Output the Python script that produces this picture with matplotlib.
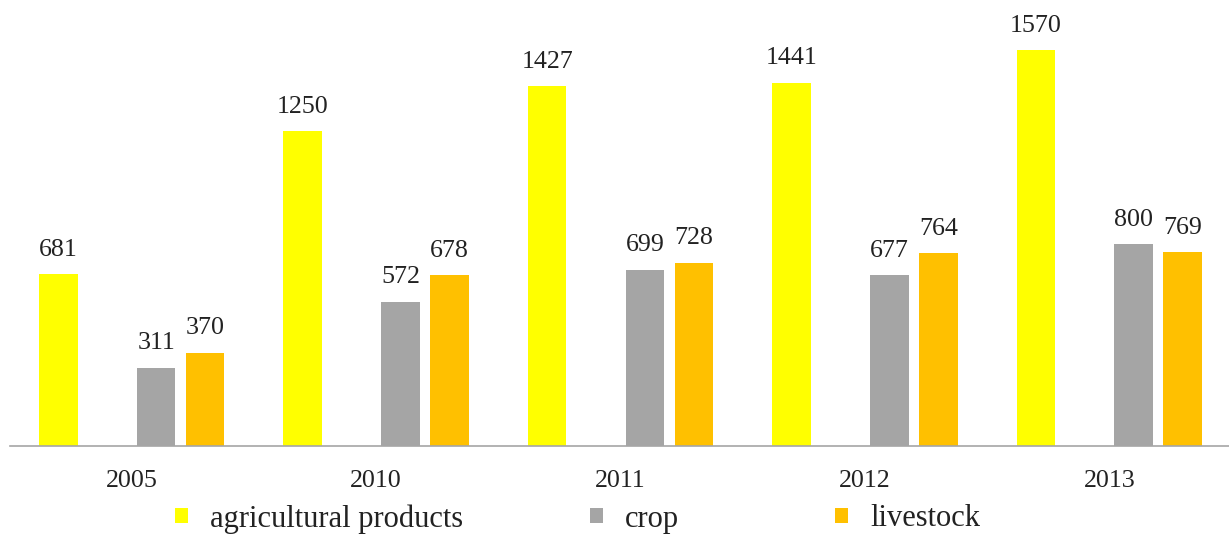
import matplotlib.pyplot as plt
import numpy as np

# Datos del gráfico
anios = ['2005', '2010', '2011', '2012', '2013']
agricolas = [681, 1250, 1427, 1441, 1570]
cultivos = [311, 572, 699, 677, 800]
ganaderia = [370, 678, 728, 764, 769]

nombres = ['agricultural products', 'crop', 'livestock']
colores = ['#FFFF00', '#A5A5A5', '#FFC000']

plt.rcParams['font.family'] = ['Liberation Serif', 'DejaVu Serif']
color_texto = '#222222'

fig = plt.figure(figsize=(12.29, 5.36), dpi=100)
W, H = 1229, 536
# ejes: de x=9.5 px hasta el borde derecho, base en y=446 px
ax = fig.add_axes([9.5 / W, (H - 446) / H, (W - 9.5) / W, 446 / H])

x = np.arange(len(anios))
ancho = 0.158
desplazamientos = [-0.3, 0.1, 0.3]
series = [agricolas, cultivos, ganaderia]

barras = []
for serie, desp, color, nombre in zip(series, desplazamientos, colores, nombres):
    b = ax.bar(x + desp, serie, width=ancho, color=color, label=nombre, linewidth=0)
    barras.append(b)
    # Etiquetas de valor encima de cada barra
    for xi, v in zip(x + desp, serie):
        ax.annotate(str(v), (xi, v), xytext=(0, 13.3), textcoords='offset points',
                    ha='center', va='baseline', fontsize=18.7, color=color_texto)

# cada grupo ocupa 244.4 px
ax.set_xlim(-0.5, -0.5 + (W - 9.5) / 244.4)
ax.set_ylim(0, 446 / 0.252)

ax.set_xticks(x)
ax.set_xticklabels(anios, fontsize=18.7, color=color_texto)
ax.tick_params(axis='x', length=0, pad=17)
ax.set_yticks([])
for lado in ['top', 'right', 'left']:
    ax.spines[lado].set_visible(False)
ax.spines['bottom'].set_color('#A6A6A6')
ax.spines['bottom'].set_linewidth(1.2)

# Leyenda: una entrada por posición
posiciones = [175, 590, 835]
for b, nombre, px in zip(barras, nombres, posiciones):
    leg = fig.legend([b], [nombre], loc='center left',
                     bbox_to_anchor=(px / W, (H - 519) / H),
                     frameon=False, fontsize=22, borderpad=0, borderaxespad=0,
                     handlelength=0.425, handleheight=0.39, handletextpad=0.72)
    for t in leg.get_texts():
        t.set_color(color_texto)

plt.savefig('out.png', dpi=100)
